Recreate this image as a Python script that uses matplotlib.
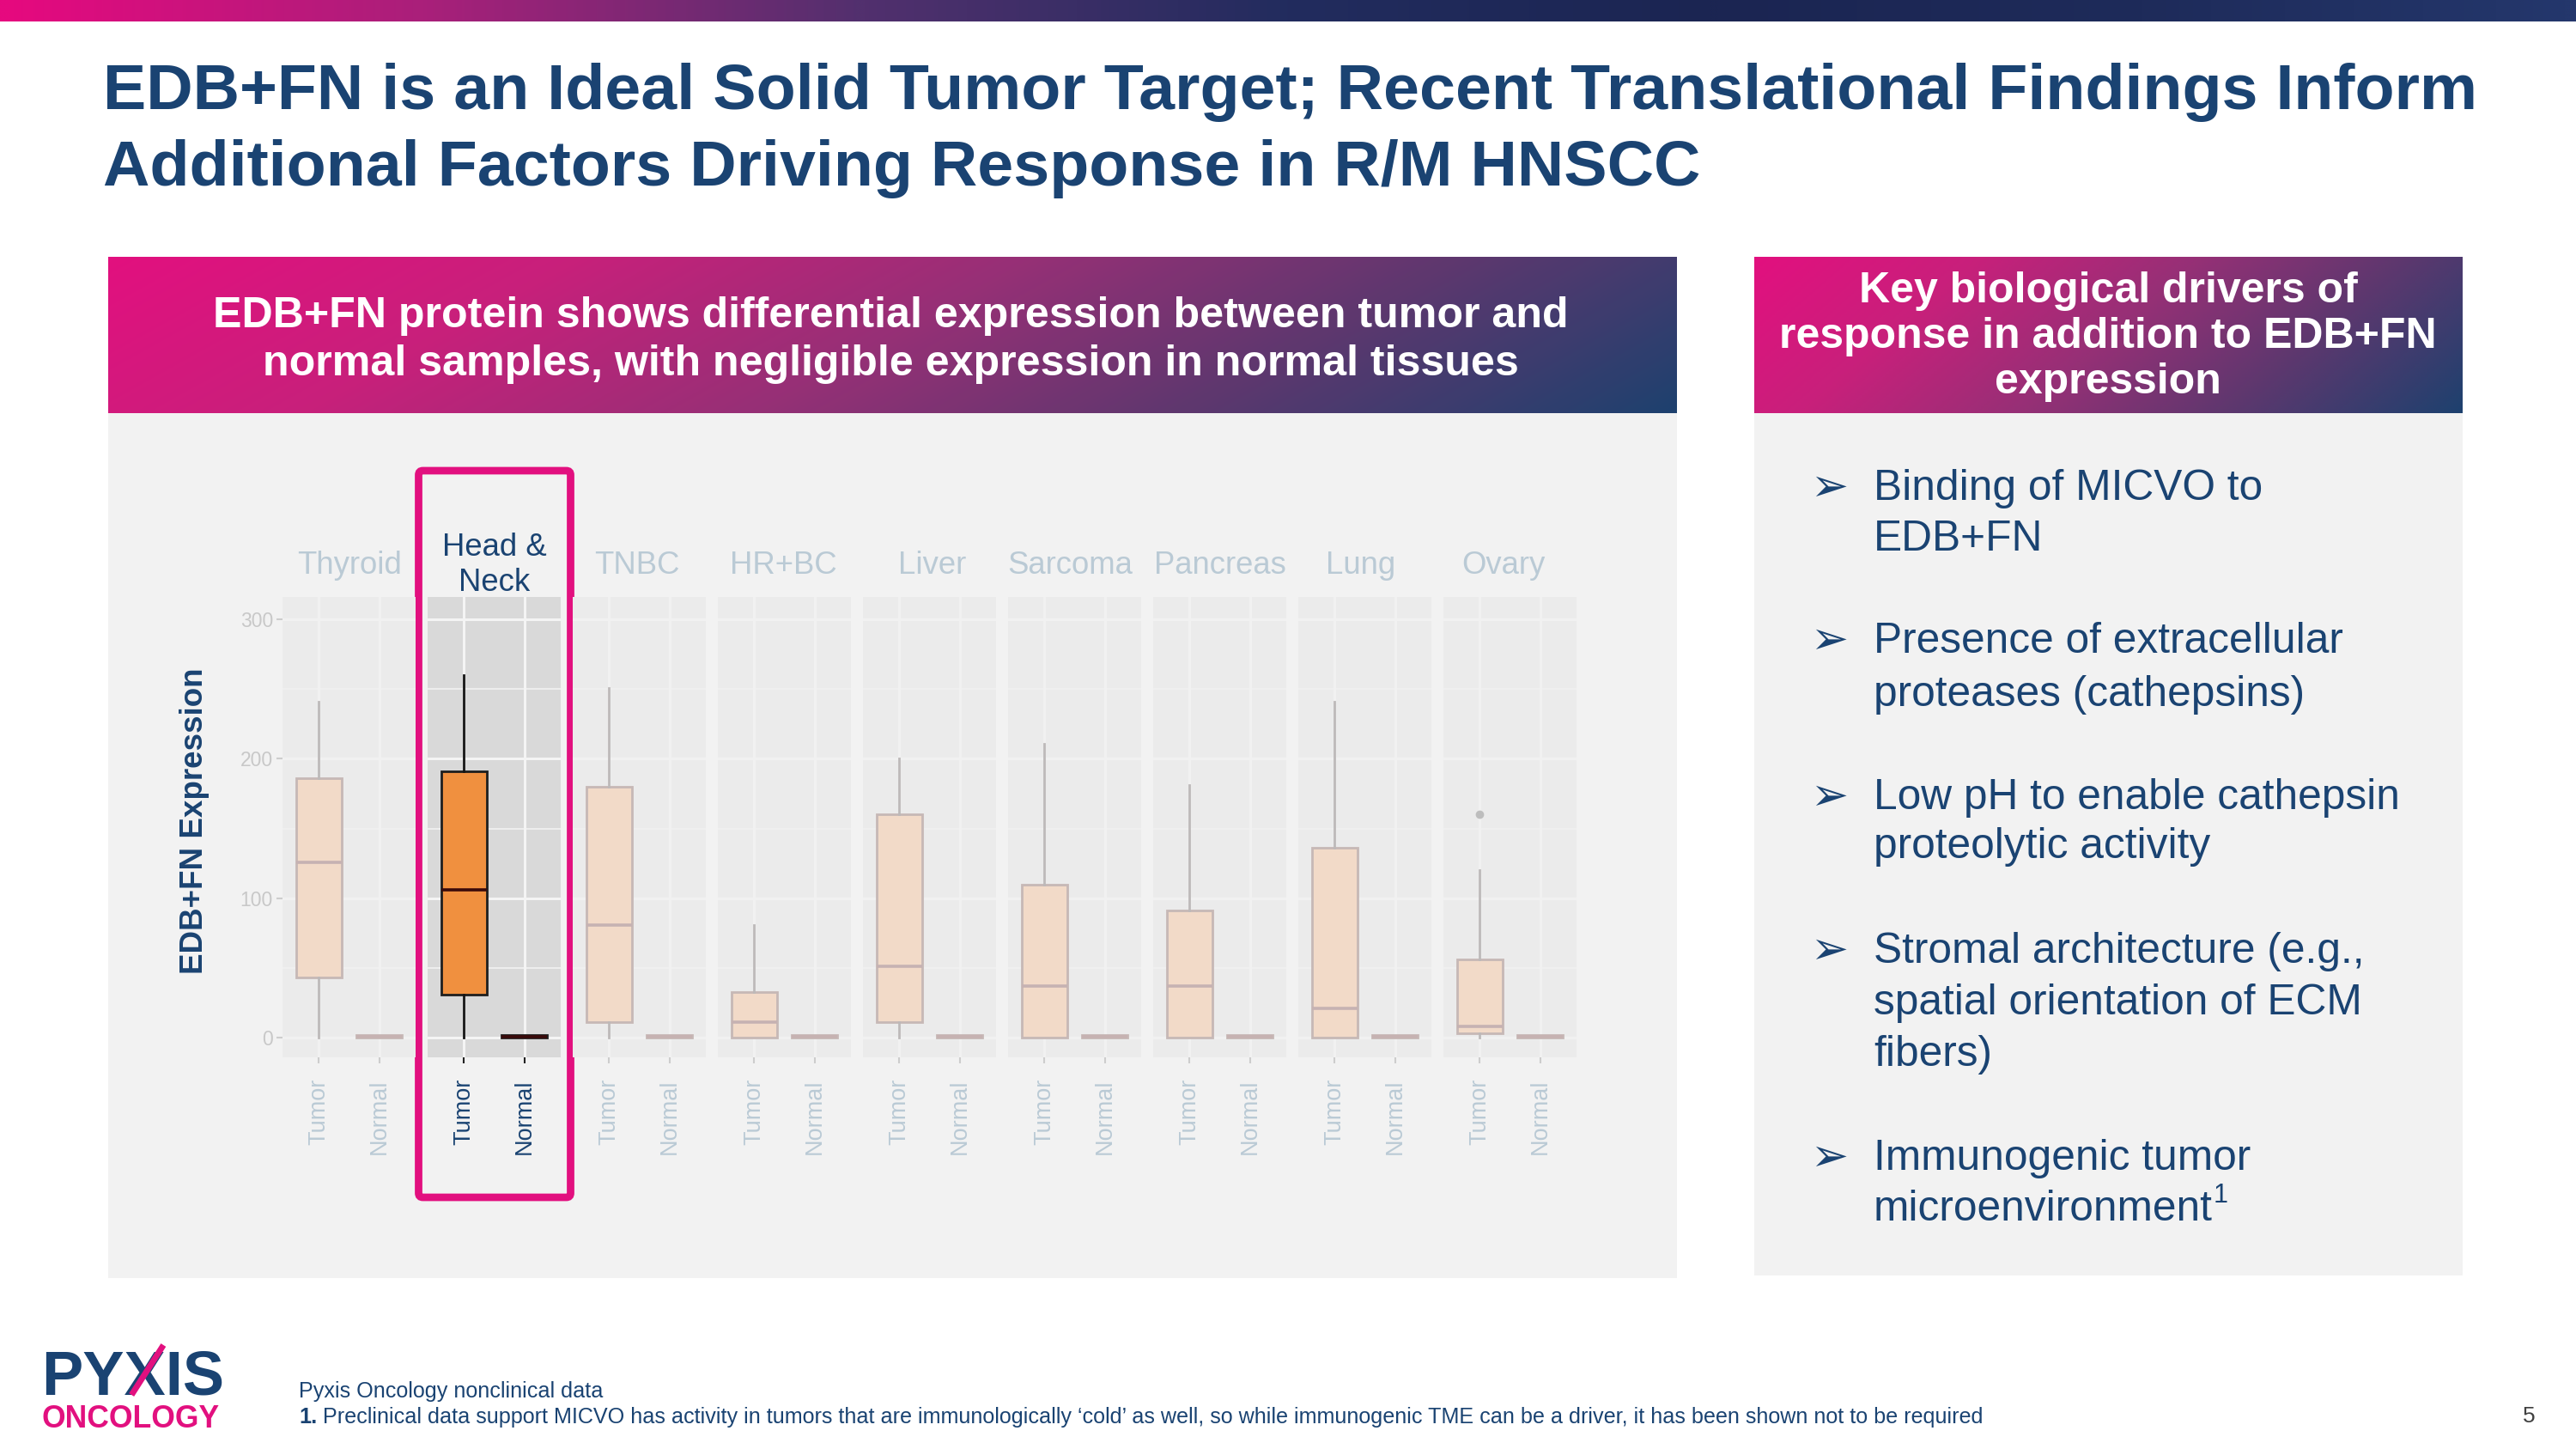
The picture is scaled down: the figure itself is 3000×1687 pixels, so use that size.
import matplotlib
matplotlib.use('Agg')
import matplotlib.pyplot as plt
import numpy as np
from matplotlib.colors import LinearSegmentedColormap
from matplotlib.patches import Rectangle, FancyBboxPatch

plt.rcParams['font.family'] = ['Liberation Sans', 'DejaVu Sans']

# ---------------- data ----------------
categories = ["Thyroid", "Head &\nNeck", "TNBC", "HR+BC", "Liver", "Sarcoma", "Pancreas", "Lung", "Ovary"]
groups = ["Tumor", "Normal"]
highlight = "Head &\nNeck"

tumor_whislo = [0, 0, 0, 0, 0, 0, 0, 0, 0]
tumor_q1 = [43, 31, 11, 0, 11, 0, 0, 0, 3]
tumor_med = [126, 106, 81, 11, 51, 37, 37, 21, 8]
tumor_q3 = [186, 191, 180, 33, 160, 110, 91, 136, 56]
tumor_whishi = [241, 260, 251, 81, 200, 211, 181, 241, 120]
tumor_outliers = [[], [], [], [], [], [], [], [], [160]]

normal_whislo = [0, 0, 0, 0, 0, 0, 0, 0, 0]
normal_q1 = [0, 0, 0, 0, 0, 0, 0, 0, 0]
normal_med = [1, 1, 1, 1, 1, 1, 1, 1, 1]
normal_q3 = [2, 2, 2, 2, 2, 2, 2, 2, 2]
normal_whishi = [2, 2, 2, 2, 2, 2, 2, 2, 2]

y_ticks = [0, 100, 200, 300]
y_minor = [50, 150, 250]

title_lines = ["EDB+FN is an Ideal Solid Tumor Target; Recent Translational Findings Inform",
               "Additional Factors Driving Response in R/M HNSCC"]
left_header = ["EDB+FN protein shows differential expression between tumor and",
               "normal samples, with negligible expression in normal tissues"]
right_header = ["Key biological drivers of", "response in addition to EDB+FN", "expression"]
bullets = [["Binding of MICVO to", "EDB+FN"],
           ["Presence of extracellular", "proteases (cathepsins)"],
           ["Low pH to enable cathepsin", "proteolytic activity"],
           ["Stromal architecture (e.g.,", "spatial orientation of ECM", "fibers)"],
           ["Immunogenic tumor", "microenvironment"]]
footnote_1 = "Pyxis Oncology nonclinical data"
footnote_2 = ("Preclinical data support MICVO has activity in tumors that are immunologically \u2018cold\u2019 "
              "as well, so while immunogenic TME can be a driver, it has been shown not to be required")

# ---------------- style ----------------
W, H = 3000, 1687
NAVY = '#1A4372'
MAGENTA = '#E2107F'
PANEL_BG = '#F2F2F2'
grad_colors = ['#E2107F', '#C8207B', '#963076', '#5A386E', '#1E416E']

fig = plt.figure(figsize=(W / 100, H / 100), dpi=100)
fig.patch.set_facecolor('white')
ax_bg = fig.add_axes([0, 0, 1, 1], zorder=0)
ax_bg.set_xlim(0, W)
ax_bg.set_ylim(H, 0)
ax_bg.set_autoscale_on(False)
ax_bg.axis('off')


def gradient_rect(ax, x0, y0, w, h, colors, wx=1.0, wy=0.0, z=1):
    xx = np.linspace(0, 1, 600)
    yy = np.linspace(0, 1, 60)
    X, Y = np.meshgrid(xx, yy)
    T = (X * wx + Y * wy) / (wx + wy)
    cmap = LinearSegmentedColormap.from_list('g', colors)
    ax.imshow(T, cmap=cmap, extent=(x0, x0 + w, y0 + h, y0), aspect='auto',
              interpolation='bilinear', zorder=z, vmin=0, vmax=1)


# top bar
gradient_rect(ax_bg, 0, 0, W, 25, ['#E6097F', '#A8207A', '#52306E', '#222C5E', '#1B2552', '#1E2B5A', '#24376C'])

# title
ax_bg.text(120, 127, title_lines[0], fontsize=54.3, weight='bold', color=NAVY, va='baseline', ha='left')
ax_bg.text(120, 216, title_lines[1], fontsize=54.3, weight='bold', color=NAVY, va='baseline', ha='left')

# left panel
ax_bg.add_patch(Rectangle((126, 480), 1827, 1008, facecolor=PANEL_BG, edgecolor='none', zorder=1))
gradient_rect(ax_bg, 126, 299, 1827, 182, grad_colors, wx=0.85, wy=0.15)
ax_bg.text(1037, 381, left_header[0], fontsize=36.1, weight='bold', color='white', ha='center', va='baseline', zorder=3)
ax_bg.text(1037, 437, left_header[1], fontsize=36.1, weight='bold', color='white', ha='center', va='baseline', zorder=3)

# right panel
ax_bg.add_patch(Rectangle((2043, 480), 825, 1005, facecolor=PANEL_BG, edgecolor='none', zorder=1))
gradient_rect(ax_bg, 2043, 299, 825, 182, grad_colors, wx=0.8, wy=0.2)
for line, yb in zip(right_header, [352, 405, 458]):
    ax_bg.text(2455, yb, line, fontsize=36, weight='bold', color='white', ha='center', va='baseline', zorder=3)

bullet_baselines = [[582, 641], [760, 822], [942, 999], [1121, 1181, 1241], [1362, 1421]]
t = None
for lines, ybs in zip(bullets, bullet_baselines):
    ax_bg.text(2108, ybs[0] + 1, '\u27a2', fontsize=38, color=NAVY, ha='left', va='baseline',
               family=['DejaVu Sans'], zorder=3)
    for line, yb in zip(lines, ybs):
        t = ax_bg.text(2182, yb, line, fontsize=35.7, color=NAVY, ha='left', va='baseline', zorder=3)
last_text = t

# footer
ax_bg.text(348, 1627, footnote_1, fontsize=18.1, color=NAVY, ha='left', va='baseline')
t1 = ax_bg.text(348, 1657, "1.", fontsize=18.1, weight='bold', color=NAVY, ha='left', va='baseline')
ax_bg.text(2938, 1656, "5", fontsize=19, color='#404040', ha='left', va='baseline')

# logo
logo = ax_bg.text(48, 1624, "PYXIS", fontsize=52, weight='bold', color=NAVY, ha='left', va='baseline')
ax_bg.text(49, 1662, "ONCOLOGY", fontsize=25.6, weight='bold', color=MAGENTA, ha='left', va='baseline')

# ---------------- chart ----------------
ax_top, ax_bot = 695, 1231
panel_w, panel_step, panel_x0 = 155, 169, 329
strip_dx = [1, 0, -3, -1, 3, -5, 0, -5, -8]   # small label offsets (px) as in the slide
ylim = (-14, 316)

faded = dict(box_fc='#F2DAC8', box_ec='#C6B8B6', med='#C6B2B2', whisk='#BDB9B9',
             bg='#EBEBEB', grid='#F1F1F1', txt='#BACAD5', tick='#CDCDCD')
strong = dict(box_fc='#F0903F', box_ec='#1E1E1E', med='#3A0A0A', whisk='#151515',
              bg='#D9D9D9', grid='#F4F4F4', txt=NAVY, tick='#222222')

axes = []
for i, cat in enumerate(categories):
    st = strong if cat == highlight else faded
    x0 = panel_x0 + i * panel_step
    ax = fig.add_axes([x0 / W, 1 - ax_bot / H, panel_w / W, (ax_bot - ax_top) / H], zorder=2)
    axes.append(ax)
    ax.set_facecolor(st['bg'])
    for s in ax.spines.values():
        s.set_visible(False)
    stats = [
        dict(med=tumor_med[i], q1=tumor_q1[i], q3=tumor_q3[i], whislo=tumor_whislo[i],
             whishi=tumor_whishi[i], fliers=tumor_outliers[i]),
        dict(med=normal_med[i], q1=normal_q1[i], q3=normal_q3[i], whislo=normal_whislo[i],
             whishi=normal_whishi[i], fliers=[]),
    ]
    ax.bxp(stats, positions=[1, 2], widths=0.75, patch_artist=True, showcaps=False,
           boxprops=dict(facecolor=st['box_fc'], edgecolor=st['box_ec'], linewidth=2.0),
           medianprops=dict(color=st['med'], linewidth=2.6),
           whiskerprops=dict(color=st['whisk'], linewidth=2.0),
           flierprops=dict(marker='o', markerfacecolor='#BDBDBD', markeredgecolor='none', markersize=7))
    ax.set_xlim(0.4, 2.6)
    ax.set_ylim(*ylim)
    ax.set_xticks([1, 2])
    ax.set_xticklabels(groups, rotation=90, fontsize=19.5, color=st['txt'], va='top', ha='center')
    ax.set_yticks(y_ticks)
    ax.set_yticks(y_minor, minor=True)
    ax.set_axisbelow(True)
    ax.grid(which='major', color=st['grid'], linewidth=2.2)
    ax.grid(which='minor', axis='y', color=st['grid'], linewidth=1.1)
    ax.tick_params(axis='x', which='major', length=5, width=1.5, color=st['tick'], pad=13)
    ax.tick_params(which='minor', length=0)
    if i == 0:
        ax.set_yticklabels([str(v) for v in y_ticks], fontsize=16.5, color='#C8C8C8')
        ax.tick_params(axis='y', which='major', length=5, width=1.5, color='#CDCDCD', pad=3)
    else:
        ax.tick_params(axis='y', which='major', left=False, labelleft=False)
    ax.text(0.5 + strip_dx[i] / panel_w, 1 + 37 / (ax_bot - ax_top), cat, transform=ax.transAxes,
            ha='center', va='center', fontsize=26.3, color=st['txt'], linespacing=1.22)

# y-axis title
ax_bg.text(226, 956, "EDB+FN Expression", rotation=90, fontsize=26.5, weight='bold', color=NAVY,
           ha='center', va='center')

# highlight frame around Head & Neck
hi = categories.index(highlight)
hx = panel_x0 + hi * panel_step
ax_bg.add_patch(FancyBboxPatch((hx - 10.5, 548), panel_w + 22, 846,
                               boxstyle='round,pad=0,rounding_size=5', facecolor='none',
                               edgecolor=MAGENTA, linewidth=6.3, zorder=4))

# measured placements (superscript, footnote continuation, logo accent)
fig.canvas.draw()
inv = ax_bg.transData.inverted()
bb = last_text.get_window_extent()
x_end = inv.transform((bb.x1, bb.y0))[0]
ax_bg.text(x_end + 1, 1400, "1", fontsize=22, color=NAVY, ha='left', va='baseline', zorder=3)
bb1 = t1.get_window_extent()
x1_end = inv.transform((bb1.x1, bb1.y0))[0]
ax_bg.text(x1_end + 7, 1657, footnote_2, fontsize=18.1, color=NAVY, ha='left', va='baseline')

# pink accent stroke on the X of the logo
lb = logo.get_window_extent()
lx0 = inv.transform((lb.x0, lb.y0))[0]
lx1 = inv.transform((lb.x1, lb.y0))[0]
lw_ = lx1 - lx0
xa = lx0 + lw_ * (1.334 / 2.946)
xb = lx0 + lw_ * (2.001 / 2.946)
ax_bg.plot([xa + (xb - xa) * 0.18, xb - (xb - xa) * 0.05], [1624, 1566], color=MAGENTA, lw=5,
           solid_capstyle='butt', zorder=5)

fig.savefig('out.png', dpi=100, facecolor='white')
